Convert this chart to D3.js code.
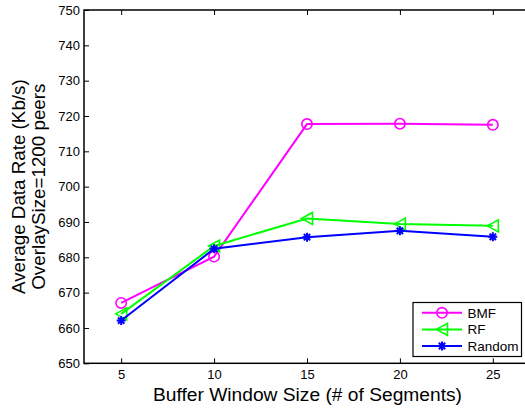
<!DOCTYPE html>
<html>
<head>
<meta charset="utf-8">
<script src="https://cdn.jsdelivr.net/npm/d3@7"></script>
<style>
  html, body { margin: 0; padding: 0; background: #fff; }
  svg { display: block; font-family: "Liberation Sans", Arial, sans-serif; }
</style>
</head>
<body>
<svg id="chart" width="525" height="409"></svg>
<script>
// Buffer window sizes (# of segments)
const windowSizes = [5, 10, 15, 20, 25];
// Average data rate (Kb/s) per scheme
const bmfRates    = [667.1, 680.2, 717.7, 717.8, 717.5];
const rfRates     = [664.0, 683.2, 691.0, 689.4, 688.9];
const randomRates = [662.1, 682.4, 685.7, 687.5, 685.8];
const seriesNames = ["BMF", "RF", "Random"];
const xTicks = [5, 10, 15, 20, 25];
const yTicks = [650, 660, 670, 680, 690, 700, 710, 720, 730, 740, 750];

const series = [
  { name: seriesNames[0], values: bmfRates,    color: "#ff00ff", marker: "circle" },
  { name: seriesNames[1], values: rfRates,     color: "#00ff00", marker: "triangle" },
  { name: seriesNames[2], values: randomRates, color: "#0000ff", marker: "star" }
];

const svg = d3.select("#chart");
const plotLeft = 84, plotTop = 10, plotRight = 530, plotBottom = 363.3;

const x = d3.scaleLinear().domain([3, 27]).range([plotLeft, plotRight]);
const y = d3.scaleLinear().domain([650, 750]).range([plotBottom, plotTop]);

// Frame
svg.append("rect")
  .attr("x", plotLeft).attr("y", plotTop)
  .attr("width", plotRight - plotLeft).attr("height", plotBottom - plotTop)
  .attr("fill", "none").attr("stroke", "#000").attr("stroke-width", 1.5);

// Axes with inward ticks
const tickLen = 5;
const xAxisB = svg.append("g").attr("transform", `translate(0,${plotBottom})`)
  .call(d3.axisBottom(x).tickValues(xTicks).tickSizeInner(-tickLen).tickSizeOuter(0).tickPadding(6));
const xAxisT = svg.append("g").attr("transform", `translate(0,${plotTop})`)
  .call(d3.axisTop(x).tickValues(xTicks).tickSizeInner(-tickLen).tickSizeOuter(0).tickFormat(""));
const yAxisL = svg.append("g").attr("transform", `translate(${plotLeft},0)`)
  .call(d3.axisLeft(y).tickValues(yTicks).tickSizeInner(-tickLen).tickSizeOuter(0).tickPadding(4));
const yAxisR = svg.append("g").attr("transform", `translate(${plotRight},0)`)
  .call(d3.axisRight(y).tickValues(yTicks).tickSizeInner(-tickLen).tickSizeOuter(0).tickFormat(""));

[xAxisB, xAxisT, yAxisL, yAxisR].forEach(g => {
  g.select(".domain").remove();
  g.selectAll(".tick line").attr("stroke", "#000").attr("stroke-width", 1);
  g.selectAll(".tick text").attr("fill", "#000").attr("font-size", 13)
    .attr("font-family", "Liberation Sans, Arial, sans-serif");
});

// Axis titles
svg.append("text")
  .attr("x", 307.5).attr("y", 401)
  .attr("text-anchor", "middle").attr("font-size", 19.2).attr("fill", "#000")
  .text("Buffer Window Size (# of Segments)");

const yTitle = svg.append("text")
  .attr("transform", `translate(0,${(plotTop + plotBottom) / 2}) rotate(-90)`)
  .attr("text-anchor", "middle").attr("font-size", 18.8).attr("fill", "#000");
yTitle.append("tspan").attr("x", 0).attr("y", 25).text("Average Data Rate (Kb/s)");
yTitle.append("tspan").attr("x", 0).attr("y", 45).text("OverlaySize=1200 peers");

// Marker drawing
function drawMarker(g, type, cx, cy, color) {
  if (type === "circle") {
    g.append("circle").attr("cx", cx).attr("cy", cy).attr("r", 5.2)
      .attr("fill", "none").attr("stroke", color).attr("stroke-width", 1.6);
  } else if (type === "triangle") {
    const w = 5.5, h = 6;
    g.append("path")
      .attr("d", `M${cx - w},${cy} L${cx + w},${cy - h} L${cx + w},${cy + h} Z`)
      .attr("fill", "none").attr("stroke", color).attr("stroke-width", 1.6);
  } else {
    const r = 4.5;
    let d = "";
    for (let k = 0; k < 4; k++) {
      const a = k * Math.PI / 4;
      d += `M${cx - r * Math.cos(a)},${cy - r * Math.sin(a)} L${cx + r * Math.cos(a)},${cy + r * Math.sin(a)} `;
    }
    g.append("path").attr("d", d).attr("stroke", color).attr("stroke-width", 2);
  }
}

const line = d3.line().x((d, i) => x(windowSizes[i])).y(d => y(d));

series.forEach(s => {
  const g = svg.append("g");
  g.append("path").datum(s.values).attr("d", line)
    .attr("fill", "none").attr("stroke", s.color).attr("stroke-width", 2);
  s.values.forEach((v, i) => drawMarker(g, s.marker, x(windowSizes[i]), y(v), s.color));
});

// Legend
const lg = svg.append("g");
lg.append("rect").attr("x", 413).attr("y", 302.5).attr("width", 108.5).attr("height", 54)
  .attr("fill", "#fff").attr("stroke", "#000").attr("stroke-width", 1.2);
series.forEach((s, i) => {
  const ly = 312.8 + i * 16.6;
  lg.append("line").attr("x1", 422).attr("x2", 462).attr("y1", ly).attr("y2", ly)
    .attr("stroke", s.color).attr("stroke-width", 2);
  drawMarker(lg, s.marker, 442, ly, s.color);
  lg.append("text").attr("x", 467.5).attr("y", ly + 5)
    .attr("font-size", 13.5).attr("fill", "#000").text(s.name);
});
</script>
</body>
</html>
